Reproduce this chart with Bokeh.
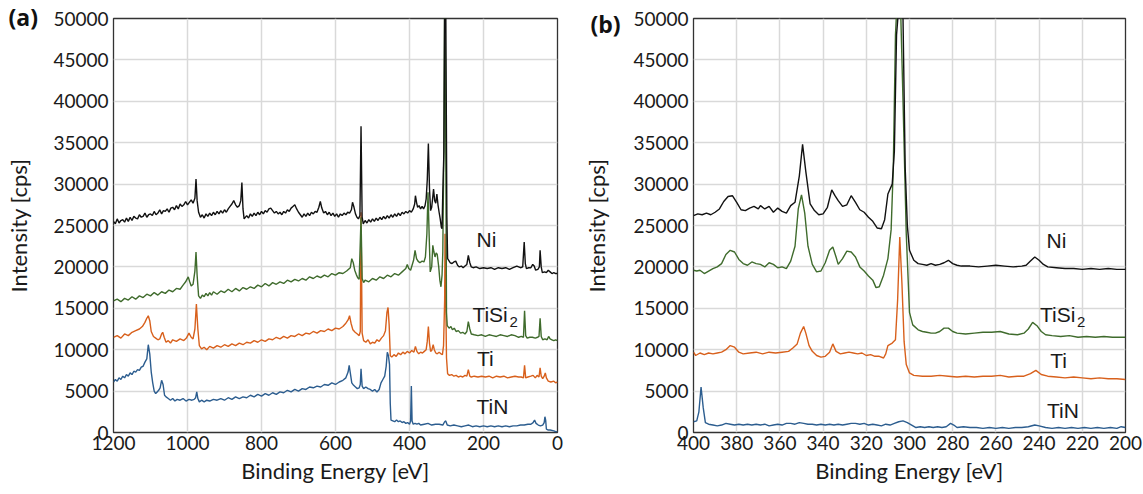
from bokeh.plotting import figure
from bokeh.layouts import row
from bokeh.models import Range1d, FixedTicker, Label
from bokeh.embed import file_html
from bokeh.resources import INLINE

# ---------------- data: panel (a) survey spectra ----------------
a_ni_e = [1200,1195,1190,1185,1180,1175,1170,1165,1160,1155,1150,1145,1140,1135,1130,1125,1120,1115,1110,1105,1100,1095,1090,1085,1080,1075,1070,1065,1060,1055,1050,1045,1040,1035,1030,1025,1020,1015,1010,1005,1000,995,990,985,980,977,974,970,965,960,955,950,945,940,935,930,925,920,915,910,905,900,895,890,885,880,875,870,865,860,856,853,850,847,840,835,830,825,820,815,810,805,800,795,790,785,780,775,770,765,760,755,750,745,740,735,730,725,720,715,710,705,700,695,690,685,680,675,670,665,660,655,650,645,641,637,632,627,622,617,612,607,602,597,592,587,582,577,572,567,562,557,554,550,546,542,538,534,531,528,525,520,515,510,505,500,495,490,485,480,475,470,465,460,455,450,445,440,435,430,425,420,415,410,405,400,395,390,386,384,381,378,374,370,366,362,358,355,352,349,346,343,340,337,335,332,329,326,323,320,317,314,312,310,307,305,302,299,297,294,290,285,280,275,270,266,260,255,250,245,241,237,233,228,220,210,200,190,180,170,160,150,140,130,120,110,100,94,90,87,84,78,72,67,63,59,53,49,47,44,41,35,30,25,20,15,10,5,0]
a_ni_i = [25500,25200,25800,25300,25600,25700,25400,25900,25500,26000,25600,26100,25900,25800,26300,26000,26100,26500,26000,26300,26400,26200,26700,26300,26500,26900,26400,26800,26700,27000,26600,27100,27200,26900,27400,27000,27600,27300,27500,27900,27500,27800,28100,27700,28300,30600,28000,26600,26000,26300,25900,26400,26100,26500,26200,26600,26300,26700,26400,26800,26500,26900,26600,27000,27300,27600,28000,27500,27200,27400,28000,30200,27000,25800,26200,25900,26400,26100,26500,26200,26600,26300,26700,26400,26800,26600,27000,27100,26800,26500,26700,26400,26600,26300,26700,26500,26900,26700,27100,27300,27500,27000,26600,26300,26000,26400,26100,26500,26200,26600,26400,26700,26600,27200,27900,27100,26500,26700,26300,26600,26200,26500,26100,26400,26000,26400,26200,26500,26300,26600,26500,26900,27800,27200,26400,26000,25800,26200,37000,26000,25200,25600,25300,25700,25400,25800,25500,25900,25600,26000,25700,26100,25800,26200,25900,26300,26000,26400,26100,26500,26200,26600,26400,26700,26500,26800,26600,27000,27600,28600,27800,27200,27400,27000,27300,27000,27400,28200,30500,34900,29500,26800,27200,28500,29400,28000,27700,28800,27500,26600,25800,24800,24600,29000,34000,52000,52000,26000,21000,20800,20500,20400,20600,20700,20200,20000,20100,19900,20100,20300,21400,20500,20000,19900,20000,19800,19900,19800,19900,19700,19900,19800,19900,19700,19900,20100,19900,20000,23000,20400,19800,19900,19900,20300,20100,19600,19700,20000,22000,20000,19300,19400,19300,19600,19400,19200,19300,19200,19200]

a_tisi_e = [1200,1190,1180,1170,1160,1150,1140,1130,1120,1110,1100,1090,1080,1070,1060,1050,1040,1030,1020,1012,1005,998,994,990,985,980,977,974,970,965,960,955,950,945,940,935,930,920,910,900,890,880,870,860,850,840,830,820,810,800,790,780,770,760,750,740,730,720,710,700,690,680,670,660,650,640,630,620,610,600,590,580,570,560,556,552,548,544,540,536,531,528,524,520,510,500,490,480,470,460,450,440,430,420,410,406,402,397,393,389,385,381,377,372,366,361,357,353,350,347,344,340,337,334,331,328,325,321,318,315,312,310,307,305,303,300,298,293,288,284,279,274,268,262,256,250,245,241,237,233,225,215,205,195,185,175,165,155,145,135,125,115,105,98,92,89,86,82,75,68,60,54,50,47,44,40,34,28,24,20,15,10,5,0]
a_tisi_i = [15900,16100,15800,16200,16000,16400,16100,16500,16300,16700,16500,16900,16600,17000,16800,17200,17000,17400,17300,17800,18200,18800,18200,17700,17900,19500,21800,19000,16500,16200,16600,16400,16800,16500,16900,16600,17000,16700,17100,16900,17300,17000,17400,17100,17500,17300,17600,17400,17800,17600,18000,17700,18100,17900,18200,18000,18400,18200,18500,18300,18600,18400,18800,18600,18900,18700,19000,18800,19200,19000,19300,19200,19500,19900,21000,20500,19600,19100,18700,18500,26000,18600,18100,18400,18200,18600,18400,18800,18600,19000,18800,19200,19000,19400,19800,20300,19800,19600,20200,20800,22000,21000,20700,20500,20700,20600,21200,24000,29000,24000,19400,20000,22600,21800,21200,21700,21500,20000,18400,17600,19000,21800,35000,52000,45000,14500,12900,12600,12800,12400,12600,12200,12300,12000,12100,11900,12200,13400,12500,11900,11800,11700,11800,11600,11800,11700,11600,11800,11700,11600,11800,11700,11500,11600,11500,14700,11700,11400,11500,11500,11400,11500,11600,13800,11600,11200,11300,11200,11600,11300,11200,11100,11200,11100]

a_ti_e = [1200,1190,1180,1170,1160,1150,1140,1130,1122,1115,1110,1106,1102,1098,1092,1086,1080,1075,1070,1067,1063,1058,1052,1046,1040,1030,1020,1010,1003,996,990,985,980,976,972,968,962,955,948,940,930,920,910,900,890,880,870,860,850,840,830,820,810,800,790,780,770,760,750,740,730,720,710,700,690,680,670,660,650,640,630,620,610,600,590,580,572,566,562,558,553,547,541,536,533,531,528,524,518,512,506,500,494,488,482,476,470,465,461,458,455,452,448,442,436,430,424,418,412,406,400,394,388,384,380,375,370,365,360,355,352,349,346,343,340,336,333,329,325,320,315,311,308,305,304,302,300,297,292,286,280,274,268,262,256,250,245,241,237,233,225,215,205,195,185,175,165,155,145,135,125,115,105,98,92,89,86,80,72,66,60,55,50,47,44,40,36,33,30,25,18,10,5,0]
a_ti_i = [11500,11700,11400,11900,11700,12100,12300,12500,12800,13300,13800,14100,13500,12200,11600,11400,11200,11300,11900,12100,11500,10900,11100,10800,11200,11000,11300,11100,11400,12000,11500,11300,12500,15500,12500,10500,10100,10300,10000,10400,10200,10500,10300,10600,10400,10700,10500,10800,10600,10900,10800,11100,10900,11200,11000,11300,11200,11500,11300,11600,11400,11700,11600,11900,11700,12000,11900,12200,12000,12300,12200,12500,12300,12600,12500,12800,13200,13600,14100,13200,12400,12100,11900,11700,12200,26600,12000,11100,10900,11200,10700,10900,10800,11200,11000,11400,11700,12300,14500,15100,13000,9300,9100,9400,9200,9600,9400,9700,9500,9800,9600,9900,9700,10400,9800,9500,9700,9600,9800,10000,11000,12800,10800,9800,9900,10600,10000,9600,9500,9700,9500,9400,10500,16000,24000,16000,9000,7100,6900,7000,6800,6900,6700,6800,6700,6900,6800,7600,6800,6700,6800,6700,6800,6700,6800,6600,6800,6700,6800,6600,6700,6800,6700,6700,6600,8100,6600,6700,6800,6900,6600,6900,6700,7800,6800,6500,6800,7200,6600,6200,6100,6200,6000,6100]

a_tin_e = [1200,1195,1190,1185,1180,1175,1170,1165,1160,1155,1150,1145,1140,1135,1130,1125,1120,1115,1110,1106,1102,1098,1094,1090,1086,1082,1078,1074,1070,1066,1062,1058,1052,1046,1040,1034,1028,1020,1012,1004,996,988,982,978,975,972,968,962,955,948,940,930,920,910,900,890,880,870,860,850,840,830,820,810,800,790,780,770,760,750,740,730,720,710,700,690,680,670,660,650,640,630,620,610,600,590,580,572,566,563,560,556,551,546,541,536,533,531,528,524,518,512,506,500,494,488,482,477,472,467,463,460,457,454,452,450,445,440,435,430,425,420,415,410,405,400,397,395,393,390,385,380,375,370,360,350,340,330,320,310,305,302,298,290,280,270,260,250,240,230,220,210,200,190,180,170,160,150,140,130,120,110,100,90,80,72,66,62,58,52,46,40,36,34,32,30,25,20,10,5,0]
a_tin_i = [6100,6400,6200,6600,6400,6800,6600,7000,6800,7200,7000,7400,7300,7600,7500,7900,8000,8500,8900,10600,9500,7300,6000,5000,4700,4900,5100,5400,6300,5800,4500,4300,4100,3900,4100,3800,4000,3900,4100,3800,4000,3900,4000,4200,4900,4100,3700,3900,3700,3900,3800,4000,3900,4100,3900,4200,4000,4300,4100,4300,4200,4500,4300,4600,4400,4700,4500,4800,4600,4900,4800,5100,4900,5200,5000,5300,5200,5500,5400,5600,5500,5800,5700,6000,5800,6100,6300,6600,7300,8100,7200,6000,5700,5500,5300,5400,5800,7700,5600,5300,5500,5300,5200,5000,5200,4900,5200,6000,6400,6800,8000,9700,9300,8200,3500,1500,1400,1300,1500,1300,1400,1200,1300,1100,1200,1000,1400,5600,1400,1000,1100,1000,1100,900,1000,1100,900,1000,1000,900,1300,1400,900,800,900,800,700,800,900,700,800,700,800,700,800,700,800,700,800,700,800,800,900,900,1000,1000,1200,1500,1100,900,800,900,1200,1900,1500,400,300,300,200,100,100]

# ---------------- data: panel (b) detail spectra ----------------
b_ni_e = [400,398,396,394,392,390,388,386,384,382,380,378,376,374,372,370,369,367,365,363,361,359,357,355,353,351,349.5,348,346,344,342,340,338,336,334.5,333,331,329,327,325,323,321,319,317,315,313,311.5,310,308,307,306,304.5,303,302,301,300,298,296,294,292,290,288,286,284,282,280,278,276,272,268,264,260,256,252,248,246,244,242,240,238,236,232,228,224,220,216,212,208,204,200]
b_ni_i = [26200,26400,26300,26500,26300,26600,27000,27900,28500,28600,27800,26900,26800,27100,27300,27000,27400,27000,27300,26600,27100,26700,26500,27400,27800,31000,34800,31500,27600,26800,26300,26400,27200,29300,28600,28000,27300,27500,28600,27800,26900,26600,26000,25500,24700,24600,25700,28800,30000,34000,48000,53000,50000,32000,25000,22000,20800,20400,20300,20200,20400,20200,20300,20500,20800,20400,20200,20100,20100,20000,20100,20200,20100,20000,20100,20200,20700,21200,20800,20300,20000,19900,19800,19800,19700,19800,19700,19800,19700,19700]

b_tisi_e = [400,398.5,397,395,393,391,389,387,385,383,381,379,377,375,373,371,369,367,365,363,361,359,357,355,353,351.5,350,348.5,347,345,343,341,339,337,335.5,334,333,331,329,327,325,323,321,319,317,315.5,314,312,310,308.5,307.5,306.5,305,304,303,301.5,300,298.5,296,294,292,290,288,286,284,282,280,278,274,270,266,262,258,254,250,247,245,243,241,239,237,234,230,226,222,218,214,210,206,200]
b_tisi_i = [19600,19500,19600,19200,19500,19800,20000,20400,21500,22000,21800,20900,20400,20200,20600,20400,20300,20000,20500,20300,19900,20000,19800,20700,22500,27000,28700,26500,22500,20300,19400,19500,20500,22000,22400,21200,20300,21000,21900,21800,21200,20000,19500,18900,18400,17500,17600,19000,21000,24500,32000,48000,56000,50000,40000,24000,14500,13000,12400,12200,12100,12000,12000,12200,12600,12600,12200,12000,11900,12000,12100,12100,12200,11900,11800,12000,12500,13300,12900,12200,11800,11700,11600,11700,11500,11600,11500,11600,11500,11500]

b_ti_e = [400,399,397,395,393,391,389,387,385,383,381,379,377,374,371,368,365,362,359,356,354,352,350.5,349,348,346.5,345,343,341,339,337,335.5,334,332,330,328,326,324,322,320,318,316,314,312,311,310,308,306.5,305.5,304.5,303.5,302.5,301.5,300,298,294,290,286,282,278,274,270,266,262,258,254,250,247,244,241.5,239,236,232,228,224,220,216,212,208,204,200]
b_ti_i = [9700,9300,9600,9400,9600,9500,9600,9700,10000,10500,10300,9700,9500,9600,9700,9500,9700,9600,9700,9800,10200,10700,12000,12800,12000,10500,9800,9300,9100,9200,9700,10700,9800,9500,9600,9700,9600,9500,9600,9300,9400,9200,9200,9000,9500,10500,10800,11200,16000,23600,18000,11000,8200,7200,6900,6800,6800,6900,6800,6700,6800,6700,6800,6800,6900,6700,6800,6800,7100,7500,7000,6800,6700,6600,6700,6600,6500,6600,6500,6500,6400]

b_tin_e = [400,398.5,397.5,396.5,395.5,394.5,393,391,389,387,385,383,381,379,377,375,373,371,369,367,365,363,361,359,357,355,353,351,349,347,345,343,341,339,337,335,333,331,329,327,325,323,321,319,317,315,313,311,309,307,305,303,301,299,297,295,293,291,289,287,285,283,281,279.5,278,275,272,269,266,263,260,257,254,251,248,245,242,240,237,234,231,228,225,222,219,216,213,210,207,204,202,200]
b_tin_i = [1300,1400,2500,5500,3000,1200,1000,900,800,900,1100,1000,900,1000,900,1000,900,1000,900,1000,800,900,1000,900,1100,1100,1000,1200,1100,1000,1000,900,1000,900,1000,900,1000,900,1000,1100,1100,1000,1100,900,1000,900,800,1000,900,1100,1300,1400,1200,900,600,700,600,700,600,700,600,700,1100,900,600,700,600,600,500,600,500,600,500,600,600,700,900,800,600,500,600,500,600,500,600,500,600,500,600,500,700,600]

# axis ticks
a_xticks = [0, 200, 400, 600, 800, 1000, 1200]
b_xticks = [200, 220, 240, 260, 280, 300, 320, 340, 360, 380, 400]
yticks = [0, 5000, 10000, 15000, 20000, 25000, 30000, 35000, 40000, 45000, 50000]

series_names = ["Ni", "TiSi", "Ti", "TiN"]
colors = {"Ni": "#111111", "TiSi": "#3f6b2c", "Ti": "#d8601c", "TiN": "#2c5d8f"}

AX_FONT = "Lato"
TAG_FONT = "Open Sans"
LBL_FONT = "Liberation Sans"


def make_fig(xr, xticks, w, h, bl, br, bt, bb, ylab_standoff):
    p = figure(width=w, height=h,
               x_range=Range1d(xr[0], xr[1]), y_range=Range1d(0, 50000),
               output_backend="svg", toolbar_location=None,
               min_border_left=bl, min_border_right=br,
               min_border_top=bt, min_border_bottom=bb)
    p.background_fill_color = "white"
    p.border_fill_color = "white"
    p.outline_line_color = "#333333"
    p.outline_line_width = 1.3
    p.xaxis.ticker = FixedTicker(ticks=xticks)
    p.yaxis.ticker = FixedTicker(ticks=yticks)
    p.xaxis.major_label_overrides = {t: str(t) for t in xticks}
    p.yaxis.major_label_overrides = {t: str(t) for t in yticks}
    for ax in (p.xaxis[0], p.yaxis[0]):
        ax.axis_line_color = None
        ax.major_tick_line_color = None
        ax.minor_tick_line_color = None
        ax.major_tick_out = 0
        ax.major_tick_in = 0
        ax.major_label_text_font = AX_FONT
        ax.major_label_text_font_size = "19px"
        ax.major_label_text_color = "#1a1a1a"
        ax.axis_label_text_font = AX_FONT
        ax.axis_label_text_font_size = "22px"
        ax.axis_label_text_font_style = "normal"
        ax.axis_label_text_color = "#1a1a1a"
    p.xaxis.major_label_standoff = 3
    p.yaxis.major_label_standoff = 5
    p.xaxis.axis_label_standoff = 4
    p.yaxis.axis_label_standoff = ylab_standoff
    p.xaxis.axis_label = "Binding Energy [eV]"
    p.yaxis.axis_label = "Intensity [cps]"
    p.xgrid.ticker = FixedTicker(ticks=xticks)
    p.ygrid.ticker = FixedTicker(ticks=yticks)
    p.grid.grid_line_color = "#d9d9d9"
    p.grid.grid_line_width = 1.5
    return p


def add_labels(p, pos, tag, tag_offset, tag_standoff):
    for name in series_names:
        x, y = pos[name]
        align = "left" if name == "TiSi" else "center"
        p.add_layout(Label(x=x, y=y, text=name, text_font=LBL_FONT, text_font_size="21px",
                           text_color="#1a1a1a", text_align=align, text_baseline="middle"))
        if name == "TiSi":
            p.add_layout(Label(x=x, y=y, text="2", x_offset=37, y_offset=-8,
                               text_font=LBL_FONT, text_font_size="15px",
                               text_color="#1a1a1a", text_align="left", text_baseline="middle"))
    # panel tag "(a)" / "(b)" as a title pulled down beside the frame
    p.title.text = tag
    p.title.align = "left"
    p.title.offset = tag_offset
    p.title.standoff = tag_standoff
    p.title.text_font = TAG_FONT
    p.title.text_font_size = "23px"
    p.title.text_font_style = "bold"
    p.title.text_color = "#111111"


# ---- panel (a)
pa = make_fig((1200, 0), a_xticks, 580, 486, 113, 23, 10, 52, 18)
pa.line(a_tin_e, a_tin_i, color=colors["TiN"], line_width=1.4)
pa.line(a_ti_e, a_ti_i, color=colors["Ti"], line_width=1.4)
pa.line(a_tisi_e, a_tisi_i, color=colors["TiSi"], line_width=1.4)
pa.line(a_ni_e, a_ni_i, color=colors["Ni"], line_width=1.4)
add_labels(pa, {"Ni": (192, 23300), "TiSi": (230, 14300), "Ti": (195, 8900), "TiN": (176, 3100)},
           "(a)", -105, -28)

# ---- panel (b)
pb = make_fig((400, 200), b_xticks, 563, 486, 111, 18, 18, 52, 20)
pb.line(b_tin_e, b_tin_i, color=colors["TiN"], line_width=1.4)
pb.line(b_ti_e, b_ti_i, color=colors["Ti"], line_width=1.4)
pb.line(b_tisi_e, b_tisi_i, color=colors["TiSi"], line_width=1.4)
pb.line(b_ni_e, b_ni_i, color=colors["Ni"], line_width=1.4)
add_labels(pb, {"Ni": (232, 23200), "TiSi": (239.6, 14300), "Ti": (231, 8700), "TiN": (229, 2700)},
           "(b)", -103, -43)

layout = row(pa, pb)
open("out.html", "w").write(file_html(layout, INLINE))
